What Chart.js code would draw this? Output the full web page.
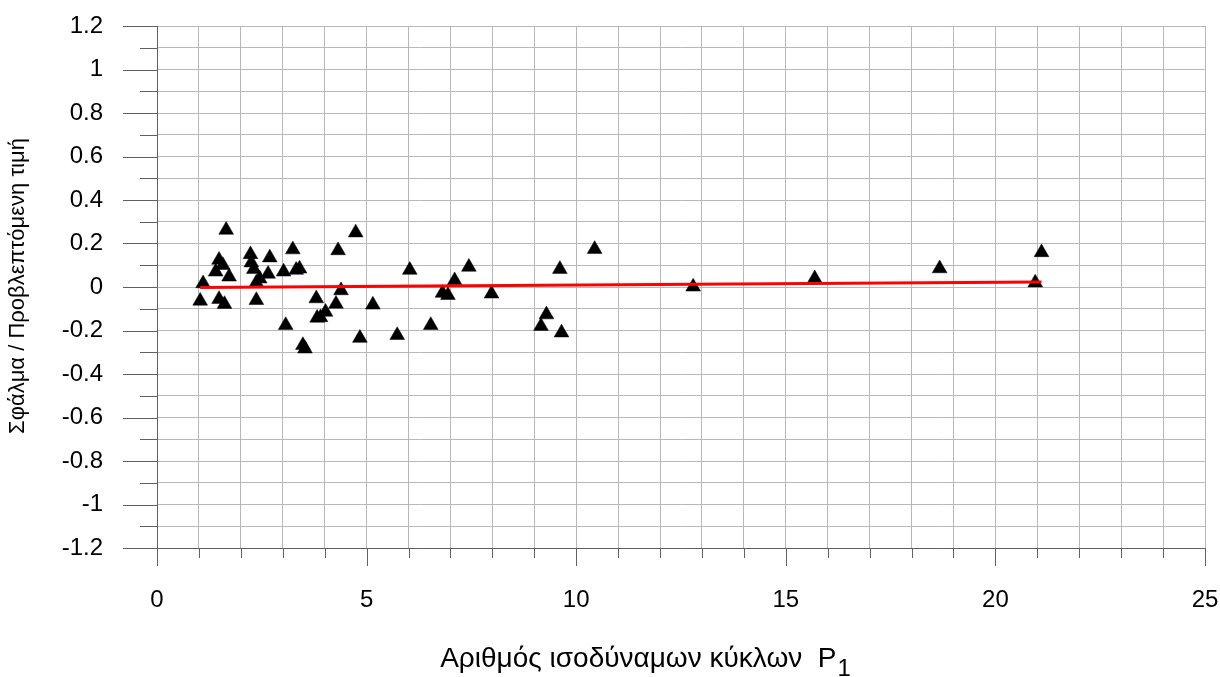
<!DOCTYPE html>
<html>
<head>
<meta charset="utf-8">
<script src="https://cdn.jsdelivr.net/npm/chart.js@4"></script>
<style>
    html, body { margin: 0; padding: 0; background: #fff; }
    #errorChart { display: block; }
</style>
</head>
<body>
<canvas id="errorChart" width="1220" height="677"></canvas>
<script>
// Equivalent cycles P1 and error / predicted value for each test
const cycles = [
    1.03, 1.10, 1.40, 1.48, 1.48, 1.57, 1.61, 1.65, 1.72,
    2.23, 2.25, 2.31, 2.37, 2.37, 2.45, 2.65, 2.69,
    3.02, 3.07, 3.24, 3.32, 3.40, 3.48, 3.53, 3.80, 3.82, 3.90,
    4.02, 4.27, 4.32, 4.39, 4.74, 4.84, 5.15, 5.73,
    6.03, 6.53, 6.81, 6.94, 7.10, 7.44, 7.98,
    9.16, 9.29, 9.61, 9.65, 10.44, 12.79, 15.69, 18.67, 20.95, 21.10
];
const errorRatio = [
    -0.064, 0.016, 0.070, -0.056, 0.124, 0.100, -0.079, 0.262, 0.047,
    0.150, 0.112, 0.082, -0.061, 0.020, 0.038, 0.060, 0.135,
    0.070, -0.176, 0.172, 0.078, 0.084, -0.268, -0.284, -0.053, -0.142, -0.140,
    -0.115, -0.078, 0.168, -0.016, 0.250, -0.235, -0.082, -0.222,
    0.078, -0.176, -0.028, -0.038, 0.030, 0.092, -0.031,
    -0.180, -0.127, 0.082, -0.210, 0.174, 0.001, 0.039, 0.085, 0.020, 0.159
];

// fitted trend line end points
const trendX = [1.03, 21.1];
const trendY = [-0.002, 0.023];

const xLabelEvery = 5;     // label every 5th cycle
const yLabelEvery = 0.2;   // label every other 0.1 step

const points = cycles.map((c, i) => ({ x: c, y: errorRatio[i] }));
const trend = trendX.map((c, i) => ({ x: c, y: trendY[i] }));

const axisColor = "#606060";
const gridColor = "#b8b8b8";
const fontFamily = "'Liberation Sans', Arial, sans-serif";

// ticks outside the axes (long on labelled steps) and the two axis titles
const axisDecor = {
    id: "axisDecor",
    afterDraw(chart) {
        const { ctx, scales: { x, y } } = chart;
        ctx.save();
        ctx.strokeStyle = axisColor;
        ctx.lineWidth = 1;

        y.ticks.forEach(t => {
            const py = Math.round(y.getPixelForValue(t.value)) + 0.5;
            const len = t.label !== "" ? 34 : 17;
            ctx.beginPath();
            ctx.moveTo(y.right - len, py);
            ctx.lineTo(y.right, py);
            ctx.stroke();
        });

        x.ticks.forEach(t => {
            const px = Math.round(x.getPixelForValue(t.value)) + 0.5;
            const len = t.label !== "" ? 18 : 10;
            ctx.beginPath();
            ctx.moveTo(px, x.top);
            ctx.lineTo(px, x.top + len);
            ctx.stroke();
        });

        ctx.fillStyle = "#000";

        // y title, rotated
        ctx.save();
        ctx.translate(18, 286);
        ctx.rotate(-Math.PI / 2);
        ctx.font = "22px " + fontFamily;
        ctx.textAlign = "center";
        ctx.textBaseline = "middle";
        ctx.fillText("Σφάλμα / Προβλεπτόμενη τιμή", 0, 0);
        ctx.restore();

        // x title with subscript
        const main = "Αριθμός ισοδύναμων κύκλων  P";
        const sub = "1";
        ctx.font = "28px " + fontFamily;
        const wMain = ctx.measureText(main).width;
        ctx.font = "24px " + fontFamily;
        const wSub = ctx.measureText(sub).width;
        const startX = 645 - (wMain + wSub) / 2;
        ctx.textBaseline = "alphabetic";
        ctx.textAlign = "left";
        ctx.font = "28px " + fontFamily;
        ctx.fillText(main, startX, 667);
        ctx.font = "24px " + fontFamily;
        ctx.fillText(sub, startX + wMain + 1, 676);

        ctx.restore();
    }
};

new Chart(document.getElementById("errorChart"), {
    type: "scatter",
    data: {
        datasets: [
            {
                type: "line",
                data: trend,
                borderColor: "#ff0000",
                borderWidth: 3,
                pointRadius: 0,
                fill: false
            },
            {
                data: points,
                pointStyle: "triangle",
                pointRadius: 8.5,
                pointBackgroundColor: "#000",
                pointBorderColor: "#000",
                pointBorderWidth: 0.5
            }
        ]
    },
    options: {
        responsive: false,
        animation: false,
        devicePixelRatio: 1,
        layout: { padding: { left: 0, right: 15, top: 26, bottom: 0 } },
        plugins: { legend: { display: false }, tooltip: { enabled: false } },
        scales: {
            x: {
                type: "linear",
                min: 0,
                max: 25,
                afterFit: (scale) => {
                    scale.height = 129;
                    scale.paddingLeft = 0;
                    scale.paddingRight = 0;
                },
                ticks: {
                    stepSize: 1,
                    autoSkip: false,
                    maxRotation: 0,
                    padding: 38,
                    color: "#000",
                    font: { family: fontFamily, size: 24 },
                    callback: (v) => (Math.round(v) % xLabelEvery === 0 ? String(Math.round(v)) : "")
                },
                grid: { color: gridColor, drawTicks: false },
                border: { color: axisColor }
            },
            y: {
                type: "linear",
                min: -1.2,
                max: 1.2,
                afterFit: (scale) => {
                    scale.width = 157;
                    scale.paddingTop = 0;
                    scale.paddingBottom = 0;
                },
                ticks: {
                    stepSize: 0.1,
                    autoSkip: false,
                    padding: 54,
                    color: "#000",
                    font: { family: fontFamily, size: 24 },
                    callback: (v) => {
                        const tenths = Math.round(v * 10);
                        return tenths % Math.round(yLabelEvery * 10) === 0 ? String(tenths / 10) : "";
                    }
                },
                grid: { color: gridColor, drawTicks: false },
                border: { color: axisColor }
            }
        }
    },
    plugins: [axisDecor]
});
</script>
</body>
</html>
